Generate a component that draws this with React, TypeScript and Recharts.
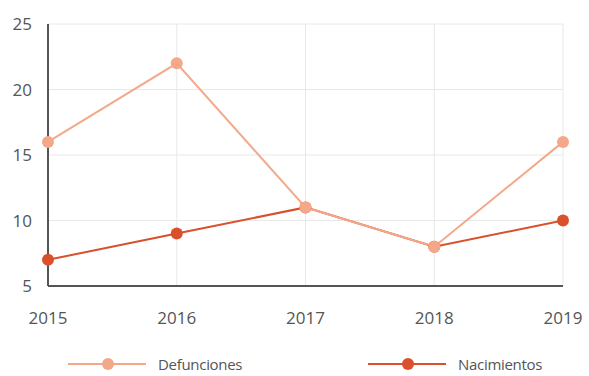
import { LineChart, Line, XAxis, YAxis, CartesianGrid, Legend } from 'recharts';

if (typeof document !== 'undefined') document.body.style.margin = '0';

const YEARS = ['2015', '2016', '2017', '2018', '2019'];
const DEFUNCIONES = [16, 22, 11, 8, 16];
const NACIMIENTOS = [7, 9, 11, 8, 10];
const Y_TICKS = [5, 10, 15, 20, 25];

const DEF_COLOR = '#f4a88a';
const NAC_COLOR = '#d9502b';

const data = YEARS.map((year, i) => ({
  year,
  defunciones: DEFUNCIONES[i],
  nacimientos: NACIMIENTOS[i],
}));

const legendItems = [
  { label: 'Defunciones', color: DEF_COLOR, left: 60 },
  { label: 'Nacimientos', color: NAC_COLOR, left: 360 },
];

function ChartLegend() {
  return (
    <div style={{ position: 'relative', width: 589, height: 40 }}>
      {legendItems.map((item) => (
        <div
          key={item.label}
          style={{
            position: 'absolute',
            left: item.left,
            top: 20,
            height: 16,
            display: 'flex',
            alignItems: 'center',
            fontFamily: '"Open Sans", sans-serif',
            fontSize: 15,
            lineHeight: '16px',
            color: '#555',
            letterSpacing: '-0.3px',
          }}
        >
          <svg width={78} height={14}>
            <line x1={0} y1={7} x2={78} y2={7} stroke={item.color} strokeWidth={2} />
            <circle cx={40} cy={7} r={6} fill={item.color} />
          </svg>
          <span style={{ marginLeft: 12 }}>{item.label}</span>
        </div>
      ))}
    </div>
  );
}

export default function App() {
  return (
    <LineChart
      width={589}
      height={376}
      data={data}
      margin={{ top: 24, right: 26, left: 8, bottom: 0 }}
    >
      <CartesianGrid stroke="#e8e8e8" strokeWidth={1} />
      <XAxis
        dataKey="year"
        height={50}
        tickLine={false}
        axisLine={{ stroke: '#555', strokeWidth: 2 }}
        tickMargin={20}
        tick={{ fill: '#555', fontSize: 17, fontFamily: '"Open Sans", sans-serif' }}
      />
      <YAxis
        width={40}
        domain={[5, 25]}
        ticks={Y_TICKS}
        tickLine={false}
        axisLine={{ stroke: '#555', strokeWidth: 2 }}
        tickMargin={10}
        tick={{ fill: '#555', fontSize: 17, fontFamily: '"Open Sans", sans-serif' }}
      />
      <Legend verticalAlign="bottom" height={40} content={<ChartLegend />} />
      <Line
        type="linear"
        dataKey="nacimientos"
        stroke={NAC_COLOR}
        strokeWidth={2}
        dot={{ r: 6, fill: NAC_COLOR, stroke: NAC_COLOR, strokeWidth: 0 }}
        isAnimationActive={false}
      />
      <Line
        type="linear"
        dataKey="defunciones"
        stroke={DEF_COLOR}
        strokeWidth={2}
        dot={{ r: 6, fill: DEF_COLOR, stroke: DEF_COLOR, strokeWidth: 0 }}
        isAnimationActive={false}
      />
    </LineChart>
  );
}
